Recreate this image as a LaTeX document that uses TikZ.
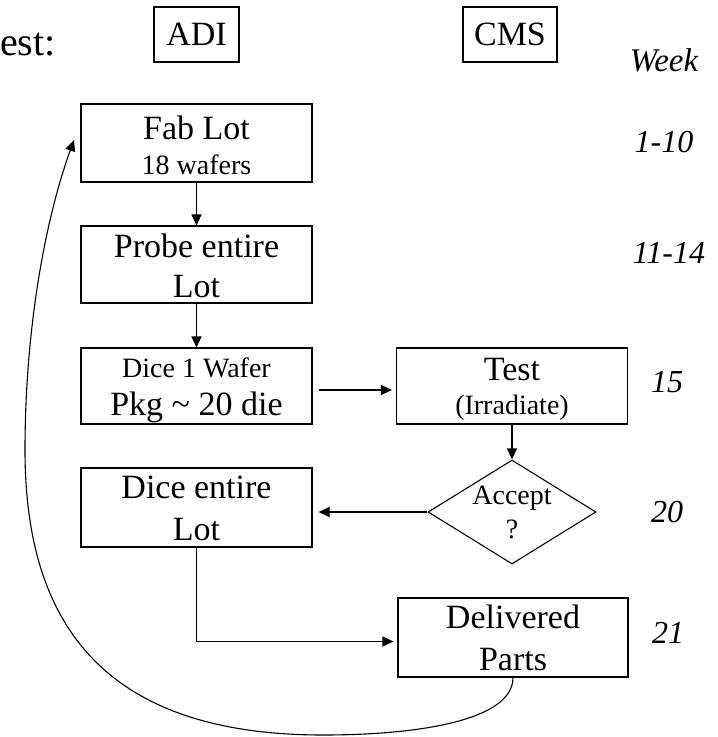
\documentclass[tikz,border=0pt]{standalone}
\usepackage{fontspec}
\setmainfont{Liberation Serif}
\usetikzlibrary{arrows.meta,shapes.geometric}
\begin{document}
\begin{tikzpicture}[x=1pt,y=-1pt,
 box/.style={draw,line width=1.1pt,minimum width=231pt,inner sep=0pt,rectangle},
 big/.style={font=\fontsize{34}{40}\selectfont, anchor=base, inner sep=0pt},
 small/.style={font=\fontsize{28}{34}\selectfont, anchor=base, inner sep=0pt},
 wk/.style={font=\fontsize{32}{38}\selectfont\itshape, anchor=base, inner sep=0pt},
 conn/.style={line width=1.1pt,-{Triangle[length=11pt,width=10pt]}},
]
\useasboundingbox (0,0) rectangle (718,737);

% header
\node[font=\fontsize{40}{46}\selectfont, anchor=base west, inner sep=0pt] (title) at (0,55) {est:};
\node[draw,line width=1.1pt,minimum width=85pt,minimum height=55pt,inner sep=0pt,font=\fontsize{34}{40}\selectfont] (adi) at (196.5,34.5) {ADI};
\node[draw,line width=1.1pt,minimum width=94pt,minimum height=55pt,inner sep=0pt,font=\fontsize{34}{40}\selectfont] (cms) at (510,34.5) {CMS};
\node[wk,font=\fontsize{33}{38}\selectfont\itshape] (week) at (664,71) {Week};

% boxes
\node[box,minimum height=78pt] (fab) at (196.5,143) {};
\node[big] (fabA) at (196.5,139) {Fab Lot};
\node[small] (fabB) at (196.5,174) {18 wafers};

\node[box,minimum height=77pt] (probe) at (196.5,264.5) {};
\node[big] (probeA) at (196.5,257) {Probe entire};
\node[big] (probeB) at (196.5,297) {Lot};

\node[box,minimum height=76pt] (dice1) at (196.5,386) {};
\node[small] (dice1A) at (196.5,377) {Dice 1 Wafer};
\node[big] (dice1B) at (196.5,415) {Pkg \textasciitilde\ 20 die};

\node[box,minimum height=76pt] (test) at (512,386) {};
\node[big] (testA) at (512,380) {Test};
\node[small] (testB) at (512,414) {(Irradiate)};

\node[diamond,draw,line width=1.1pt,minimum width=168pt,minimum height=104pt,inner sep=0pt] (acc) at (512,512) {};
\node[small] (accA) at (512,504) {Accept};
\node[small] (accB) at (512,538) {?};

\node[box,minimum height=79pt] (diceall) at (196.5,507.5) {};
\node[big] (diceallA) at (196.5,498) {Dice entire};
\node[big] (diceallB) at (196.5,540) {Lot};

\node[box,minimum width=230pt,minimum height=79pt] (deliv) at (513,637.5) {};
\node[big] (delivA) at (513,628) {Delivered};
\node[big] (delivB) at (513,670) {Parts};

% weeks
\node[wk] (w1) at (664,152) {1-10};
\node[wk] (w2) at (669,263) {11-14};
\node[wk] (w3) at (667,392) {15};
\node[wk] (w4) at (667,522) {20};
\node[wk] (w5) at (668,643) {21};

% connectors
\draw[conn] (fab.south) -- (probe.north);
\draw[conn] (probe.south) -- (dice1.north);
\draw[conn,shorten >=4pt] ([xshift=6pt,yshift=-4pt]dice1.east) -- ([yshift=-4pt]test.west);
\draw[conn] (test.south) -- (acc.north);
\draw[conn,line width=1.5pt,shorten >=6pt] (acc.west) -- (acc.west -| diceall.east);
\draw[conn,shorten >=4pt] (diceall.south) |- ([yshift=-4pt]deliv.west);
\coordinate (loopend) at (74,140);
\draw[conn] (deliv.south) .. controls (513,720) and (420,735) .. (323,735)
  .. controls (100,735) and (25,620) .. (25,450)
  .. controls (25,330) and (45,220) .. (loopend);
\end{tikzpicture}
\end{document}
